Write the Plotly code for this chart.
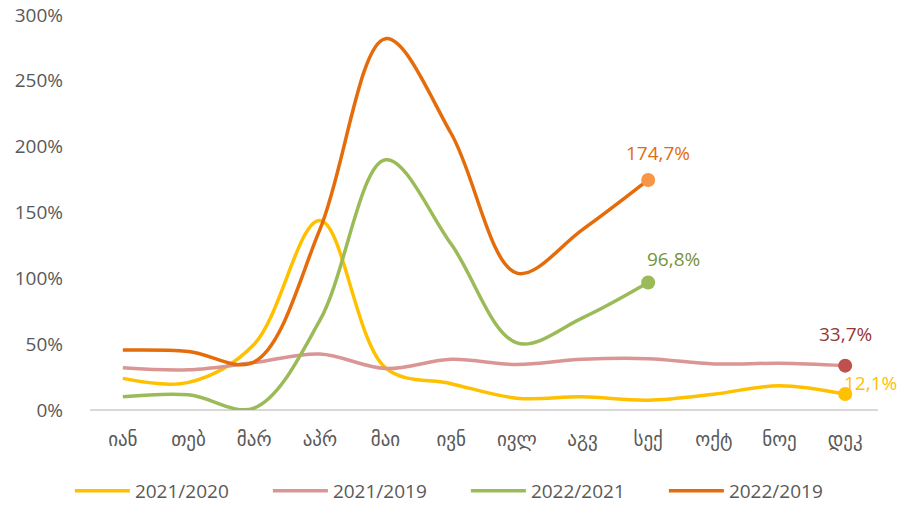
import plotly.graph_objects as go

months = ["იან", "თებ", "მარ", "აპრ", "მაი", "ივნ", "ივლ", "აგვ", "სექ", "ოქტ", "ნოე", "დეკ"]

s_2021_2020 = [24, 21, 50, 144, 32, 20, 9, 10, 7.5, 12, 18.5, 12.1]
s_2021_2019 = [32, 30.5, 36, 42.5, 31.5, 38.5, 34.5, 38.5, 39, 35, 35.5, 33.7]
s_2022_2021 = [10, 11.5, 1.5, 68, 190, 126, 51, 70, 96.8]
s_2022_2019 = [45.5, 44.5, 36.5, 137, 282, 210, 104, 137, 174.7]

series_names = ["2021/2020", "2021/2019", "2022/2021", "2022/2019"]
line_colors = ["#FFC000", "#DA9694", "#9BBB59", "#E46C0A"]
marker_colors = ["#FFC000", "#C0504D", "#9BBB59", "#F79646"]
label_colors = ["#FFC000", "#953735", "#77933C", "#E46C0A"]
label_offsets = [(25, 11), (0, 32), (25, 24), (10, 27)]

font_family = "Open Sans, DejaVu Sans, sans-serif"
FS = 19

fig = go.Figure()
all_series = [s_2021_2020, s_2021_2019, s_2022_2021, s_2022_2019]
for name, vals, lc in zip(series_names, all_series, line_colors):
    fig.add_trace(go.Scatter(
        x=months[:len(vals)], y=vals, name=name, mode="lines",
        line=dict(color=lc, width=3.5, shape="spline", smoothing=1.0),
    ))

for vals, mc, tc, (dx, dy) in zip(all_series, marker_colors, label_colors, label_offsets):
    xl = months[len(vals) - 1]
    yl = vals[-1]
    fig.add_trace(go.Scatter(
        x=[xl], y=[yl], mode="markers", showlegend=False, cliponaxis=False,
        marker=dict(color=mc, size=14),
    ))
    fig.add_annotation(
        x=xl, y=yl, xref="x", yref="y", showarrow=False,
        text=f"{yl:.1f}%".replace(".", ","),
        xshift=dx, yshift=dy,
        font=dict(color=tc, size=FS, family=font_family),
    )

fig.update_layout(
    width=899, height=514,
    margin=dict(l=90, r=21, t=15, b=104, autoexpand=False),
    plot_bgcolor="white", paper_bgcolor="white",
    font=dict(family=font_family, size=FS, color="#595959"),
    showlegend=True,
    legend=dict(orientation="h", x=0.477, xanchor="center", y=-0.157, yanchor="top",
                entrywidth=128, font=dict(size=FS, color="#595959"),
                itemwidth=55),
    xaxis=dict(type="category", categoryorder="array", categoryarray=months,
               range=[-0.5, 11.5], showgrid=False, showline=False, zeroline=False,
               ticks="", ticklabelstandoff=16, automargin=False,
               tickfont=dict(size=FS, color="#595959")),
    yaxis=dict(range=[0, 300], dtick=50, ticksuffix="%", showgrid=False,
               showline=False, zeroline=True, zerolinecolor="#D9D9D9", zerolinewidth=1.5,
               ticklabelstandoff=26, automargin=False,
               tickfont=dict(size=FS, color="#595959")),
)

fig.write_html("out.html", config={"displayModeBar": False},
               post_script="document.body.style.margin='0';document.body.style.overflow='hidden';")
